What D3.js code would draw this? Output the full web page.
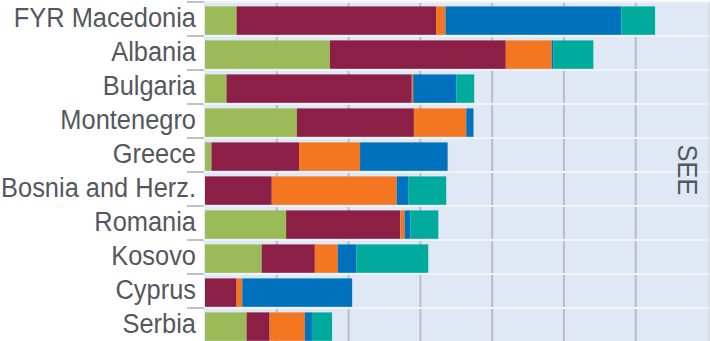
<!DOCTYPE html>
<html><head><meta charset="utf-8">
<script src="https://cdnjs.cloudflare.com/ajax/libs/d3/7.8.5/d3.min.js"></script>
<style>
html,body{margin:0;padding:0;background:#fff;}
svg{display:block;}
.lbl{font-family:"Liberation Sans","DejaVu Sans Condensed",sans-serif;fill:#54585e;}
</style></head>
<body>
<div id="chart"></div>
<script>
const categories = ["FYR Macedonia","Albania","Bulgaria","Montenegro","Greece","Bosnia and Herz.","Romania","Kosovo","Cyprus","Serbia"];
const seriesNames = ["s1","s2","s3","s4","s5"];
const seriesColors = ["#9bbb59","#8b1f46","#f47621","#0072bd","#00ab9e"];
const s1 = [0.44,1.74,0.30,1.28,0.09,0.00,1.13,0.79,0.00,0.58];
const s2 = [2.78,2.45,2.58,1.63,1.22,0.93,1.59,0.74,0.44,0.32];
const s3 = [0.13,0.64,0.02,0.73,0.85,1.74,0.06,0.32,0.08,0.49];
const s4 = [2.45,0.02,0.60,0.10,1.22,0.16,0.08,0.26,1.53,0.10];
const s5 = [0.47,0.56,0.25,0.00,0.00,0.53,0.39,1.00,0.00,0.28];
const xTicks = [0,1,2,3,4,5,6,7];
const panelLabel = "SEE";

const W = 710, H = 341;
const svg = d3.select("#chart").append("svg").attr("width", W).attr("height", H);

const x = d3.scaleLinear().domain([0,7]).range([205,707.5]);
const rows = d3.scaleBand().domain(categories).range([2,2+34*10]).padding(0);
const step = rows.step();
const barOff = 4.4, barH = 28.4;

const data = categories.map((c,i)=>({cat:c, s1:s1[i], s2:s2[i], s3:s3[i], s4:s4[i], s5:s5[i]}));
const stacked = d3.stack().keys(seriesNames)(data);

// plot background
svg.append("rect").attr("x", x(0)-1).attr("y", rows.range()[0])
  .attr("width", x(7)+1.5-(x(0)-1)).attr("height", H)
  .attr("fill", "#dfe8f4");

// vertical gridlines
svg.append("g").selectAll("line").data(xTicks.filter(t=>t>0 && t<7)).join("line")
  .attr("x1", d=>x(d)).attr("x2", d=>x(d))
  .attr("y1", rows.range()[0]).attr("y2", H)
  .attr("stroke", "#b8bdc7").attr("stroke-width", 2);
// right border
svg.append("line").attr("x1", x(7)+1.5).attr("x2", x(7)+1.5)
  .attr("y1", rows.range()[0]).attr("y2", H)
  .attr("stroke", "#c3c8d0").attr("stroke-width", 1);

// horizontal light separators
svg.append("g").selectAll("line").data(categories).join("line")
  .attr("x1", x(0)-1).attr("x2", x(7)+1)
  .attr("y1", d=>rows(d)).attr("y2", d=>rows(d))
  .attr("stroke", "#eef2f9").attr("stroke-width", 2);

// bars
svg.append("g").selectAll("g").data(stacked).join("g")
  .attr("fill", (d,i)=>seriesColors[i])
  .selectAll("rect").data(d=>d).join("rect")
  .attr("x", d=>x(d[0]))
  .attr("width", d=>Math.max(0, x(d[1])-x(d[0])))
  .attr("y", d=>rows(d.data.cat)+barOff)
  .attr("height", barH);

// left category ticks
svg.append("g").selectAll("line").data(categories).join("line")
  .attr("x1", 187).attr("x2", x(0)-1)
  .attr("y1", d=>rows(d)).attr("y2", d=>rows(d))
  .attr("stroke", "#a9adb3").attr("stroke-width", 1.5);

// category labels: condensed horizontally so the longest label fits the margin
const fontSize = 28;
const labels = svg.append("g").selectAll("text").data(categories).join("text")
  .attr("class","lbl")
  .attr("x", 0).attr("y", 0)
  .attr("text-anchor","end")
  .attr("font-size", fontSize)
  .text(d=>d);
let maxW = 0;
labels.each(function(){ maxW = Math.max(maxW, this.getComputedTextLength()); });
const k = Math.min(1, 195 / maxW);
labels.attr("transform", d=>`translate(196,${rows(d)+step/2+7.8}) scale(${k},1)`);

// panel label
svg.append("text").attr("class","lbl")
  .attr("font-size", fontSize)
  .attr("text-anchor","middle")
  .attr("transform", `translate(677.5,170) rotate(90) scale(${k},1)`)
  .text(panelLabel);
</script>
</body></html>
